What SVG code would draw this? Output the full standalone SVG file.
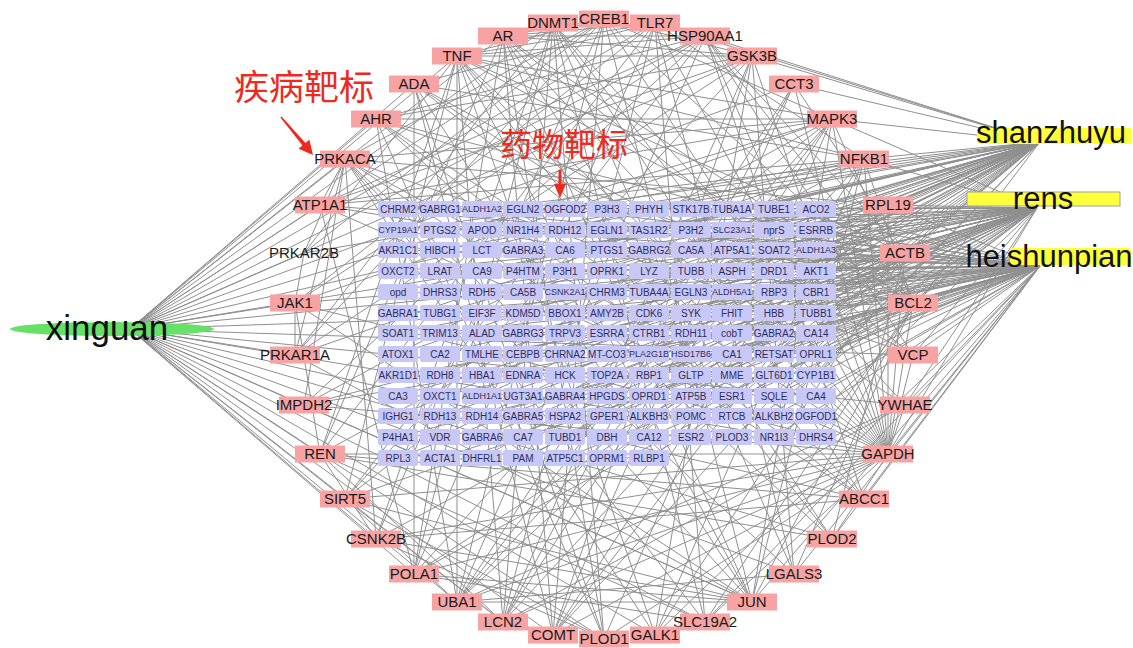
<svg xmlns="http://www.w3.org/2000/svg" xmlns:xlink="http://www.w3.org/1999/xlink" width="1133" height="648" viewBox="0 0 1133 648">
<style>
.e{fill:none;stroke:#8f8f8f;stroke-width:1}
.grid text{font-family:"Liberation Sans",Arial,sans-serif;font-size:10px;fill:#2e2e5c;text-anchor:middle}
.grid text.s{font-size:9px}
.ring text{font-family:"Liberation Sans",Arial,sans-serif;font-size:15px;fill:#1a1a1a;text-anchor:middle}
.herb text{font-family:"Liberation Sans",Arial,sans-serif;font-size:31px;fill:#111;text-anchor:middle}
.ann{font-family:"Noto Sans CJK SC","Noto Sans CJK JP",sans-serif;fill:#ee2a1f;text-anchor:middle}
</style>
<defs>
<rect id="tb" x="-20" y="-8" width="40" height="16" rx="2" fill="#c8c8f7"/>
<rect id="rb" x="-25" y="-8.5" width="50" height="17" fill="#f7a3a3"/>
</defs>
<rect width="1133" height="648" fill="#fff"/>
<g id="connectors" class="e">
<path d="M130 329L604 19M130 329L655 23M130 329L705 36M130 329L752 56M130 329L794 84M130 329L832 119M130 329L864 159M130 329L888 205M130 329L905 253M130 329L913 303M130 329L913 355M130 329L905 405M130 329L888 454M130 329L864 499M130 329L832 539M130 329L794 574M130 329L752 602M130 329L705 622M130 329L655 635M130 329L604 639M130 329L553 635M130 329L503 622M130 329L457 602M130 329L414 574M130 329L376 539M130 329L345 499M130 329L320 454M130 329L304 405M130 329L295 355M130 329L295 303M130 329L304 253M130 329L320 205M130 329L345 159M130 329L376 119M130 329L414 84M130 329L457 56M130 329L503 36M130 329L553 23"/>
<path d="M1037 208L398 209M1037 208L523 209M1037 208L649 209M1037 208L774 209M1037 208L440 230M1037 208L565 230M1037 208L691 230M1037 208L816 230M1037 208L482 250M1037 208L607 250M1037 208L732 250M1037 208L398 271M1037 208L523 271M1037 208L649 271M1037 208L774 271M1037 208L440 292M1037 208L565 292M1037 208L691 292M1037 208L816 292M1037 208L482 313M1037 208L607 313M1037 208L732 313M1037 208L398 333M1037 208L523 333M1037 208L649 333M1037 208L774 333M1037 208L440 354M1037 208L565 354M1037 208L691 354M1037 208L816 354M1037 208L482 375M1037 208L607 375M1037 208L732 375M1037 208L398 396M1037 208L523 396M1037 208L649 396M1037 208L774 396M1037 208L440 416M1037 208L565 416M1037 208L691 416M1037 208L816 416M1037 208L482 437M1037 208L607 437M1037 208L732 437M1037 208L398 458M1037 208L523 458M1037 208L649 458M1037 208L832 119M1037 208L864 159M1037 208L888 205M1037 208L905 253M1037 208L913 303M1037 208L913 355M1037 208L905 405M1037 208L888 454"/>
<path d="M1040 266L440 209M1040 266L565 209M1040 266L691 209M1040 266L816 209M1040 266L482 230M1040 266L607 230M1040 266L732 230M1040 266L398 250M1040 266L523 250M1040 266L649 250M1040 266L774 250M1040 266L440 271M1040 266L565 271M1040 266L691 271M1040 266L816 271M1040 266L482 292M1040 266L607 292M1040 266L732 292M1040 266L398 313M1040 266L523 313M1040 266L649 313M1040 266L774 313M1040 266L440 333M1040 266L565 333M1040 266L691 333M1040 266L816 333M1040 266L482 354M1040 266L607 354M1040 266L732 354M1040 266L398 375M1040 266L523 375M1040 266L649 375M1040 266L774 375M1040 266L440 396M1040 266L565 396M1040 266L691 396M1040 266L816 396M1040 266L482 416M1040 266L607 416M1040 266L732 416M1040 266L398 437M1040 266L523 437M1040 266L649 437M1040 266L774 437M1040 266L440 458M1040 266L565 458M1040 266L774 209M1040 266L816 230M1040 266L774 292M1040 266L816 354M1040 266L774 416M1040 266L888 205M1040 266L905 253M1040 266L913 303M1040 266L913 355M1040 266L905 405M1040 266L888 454M1040 266L864 499M1040 266L832 539M1040 266L794 574M1040 266L752 602M1040 266L705 622M1040 266L655 635"/>
<path d="M1040 142L482 209M1040 142L607 209M1040 142L732 209M1040 142L398 230M1040 142L523 230M1040 142L649 230M1040 142L774 230M1040 142L440 250M1040 142L565 250M1040 142L691 250M1040 142L816 250M1040 142L482 271M1040 142L607 271M1040 142L732 271M1040 142L398 292M1040 142L523 292M1040 142L649 292M1040 142L774 292M1040 142L440 313M1040 142L565 313M1040 142L691 313M1040 142L816 313M1040 142L482 333M1040 142L607 333M1040 142L732 333M1040 142L398 354M1040 142L523 354M1040 142L649 354M1040 142L774 354M1040 142L440 375M1040 142L565 375M1040 142L691 375M1040 142L816 375M1040 142L482 396M1040 142L607 396M1040 142L732 396M1040 142L398 416M1040 142L523 416M1040 142L649 416M1040 142L774 416M1040 142L440 437M1040 142L565 437M1040 142L691 437M1040 142L816 437M1040 142L482 458M1040 142L607 458M1040 142L655 23M1040 142L705 36M1040 142L752 56M1040 142L794 84M1040 142L832 119M1040 142L864 159M1040 142L888 205M1040 142L905 253"/>
<path d="M457 56L604 19M457 56L655 23M457 56L705 36M457 56L752 56M457 56L832 119M457 56L864 159M457 56L913 303M457 56L888 454M457 56L752 602M457 56L457 602M457 56L320 454M457 56L503 622M457 56L864 499M457 56L345 499M457 56L304 253M457 56L905 253M457 56L655 635M457 56L832 539"/>
<path d="M888 454L604 19M888 454L655 23M888 454L705 36M888 454L752 56M888 454L794 84M888 454L832 119M888 454L864 159M888 454L888 205M888 454L905 253M888 454L913 303M888 454L913 355M888 454L905 405M888 454L832 539M888 454L457 602M888 454L414 574M888 454L376 539M888 454L345 499M888 454L320 454M888 454L304 405M888 454L295 303M888 454L320 205M888 454L345 159M888 454L376 119M888 454L414 84M888 454L503 36M888 454L553 23M888 454L705 622M888 454L604 639M888 454L553 635M888 454L503 622"/>
<path d="M905 253L705 36M905 253L794 84M905 253L832 539M905 253L414 574M905 253L376 539M905 253L320 205M905 253L376 119M905 253L655 635M905 253L553 635M905 253L304 405M905 253L295 303"/>
<path d="M604 19L752 56M604 19L832 119M604 19L913 303M604 19L752 602M604 19L345 159M604 19L304 253M604 19L295 355M604 19L457 602M604 19L553 635M604 19L503 36M604 19L376 539"/>
<path d="M503 36L655 23M503 36L705 36M503 36L752 56M503 36L913 303M503 36L752 602M503 36L414 574M503 36L320 454M503 36L832 539M503 36L604 639M503 36L913 355"/>
<path d="M752 602L832 119M752 602L864 159M752 602L913 303M752 602L345 159M752 602L414 84M752 602L295 355M752 602L376 539M752 602L457 602M752 602L295 303M752 602L304 405"/>
<path d="M832 119L913 303M832 119L345 159M832 119L295 303M832 119L304 405M832 119L345 499M832 119L414 574M832 119L503 622M832 119L604 639M832 119L376 119M832 119L320 205"/>
<path d="M864 159L913 303M864 159L655 23M864 159L320 454M864 159L553 635M864 159L655 635M864 159L295 355M864 159L304 253M864 159L320 205M864 159L457 602M864 159L414 84"/>
<path d="M705 36L913 303M705 36L320 205M705 36L295 303M705 36L345 499M705 36L457 602M705 36L304 405M705 36L913 355M705 36L864 499M705 36L376 119"/>
<path d="M913 303L345 499M913 303L414 574M913 303L304 405M913 303L794 574M913 303L705 622M913 303L320 205M913 303L376 119"/>
<path d="M752 56L376 119M752 56L320 205M752 56L345 499M752 56L553 635M752 56L655 635M752 56L503 622M752 56L295 355M752 56L794 574"/>
<path d="M345 159L295 355M345 159L304 253M345 159L320 205M345 159L304 405M345 159L376 539M345 159L655 635M345 159L705 622M345 159L794 574M345 159L864 499M345 159L913 355M345 159L888 205"/>
<path d="M655 23L414 84M655 23L320 454M655 23L503 622M655 23L705 622M655 23L295 303M655 23L794 574"/>
<path d="M553 23L604 639M553 23L705 622M553 23L864 499M553 23L794 574M553 23L376 539M553 23L295 355M553 23L905 405"/>
<path d="M320 454L295 303M320 454L376 539M320 454L503 622M320 454L832 539M320 454L864 499"/>
<path d="M414 84L414 574M414 84L553 635M414 84L604 639M414 84L913 355M414 84L905 405"/>
<path d="M376 119L457 602M376 119L604 639M376 119L864 499M376 119L832 539"/>
<path d="M345 499L503 622M345 499L457 602M345 499L752 602M345 499L604 639"/>
<path d="M457 602L794 84M457 602L832 119M457 602L888 205M457 602L905 405M457 602L794 574"/>
<path d="M503 622L794 84M503 622L888 205M503 622L905 405M503 622L553 23"/>
<path d="M414 574L655 23M414 574L553 23M414 574L752 602M414 574L320 205"/>
<path d="M376 539L604 639M376 539L864 499M553 635L503 36M553 635L794 84M553 635L888 205M295 303L295 355M295 303L304 253M705 622L320 454M705 622L414 574"/>
</g>
<g class="grid">
<g id="t-CHRM2" transform="translate(398,209)"><use href="#tb"/><text y="3.5">CHRM2</text></g>
<g id="t-GABRG1" transform="translate(440,209)"><use href="#tb"/><text y="3.5">GABRG1</text></g>
<g id="t-ALDH1A2" transform="translate(482,209)"><use href="#tb"/><text class="s" y="3.2">ALDH1A2</text></g>
<g id="t-EGLN2" transform="translate(523,209)"><use href="#tb"/><text y="3.5">EGLN2</text></g>
<g id="t-OGFOD2" transform="translate(565,209)"><use href="#tb"/><text y="3.5">OGFOD2</text></g>
<g id="t-P3H3" transform="translate(607,209)"><use href="#tb"/><text y="3.5">P3H3</text></g>
<g id="t-PHYH" transform="translate(649,209)"><use href="#tb"/><text y="3.5">PHYH</text></g>
<g id="t-STK17B" transform="translate(691,209)"><use href="#tb"/><text y="3.5">STK17B</text></g>
<g id="t-TUBA1A" transform="translate(732,209)"><use href="#tb"/><text y="3.5">TUBA1A</text></g>
<g id="t-TUBE1" transform="translate(774,209)"><use href="#tb"/><text y="3.5">TUBE1</text></g>
<g id="t-ACO2" transform="translate(816,209)"><use href="#tb"/><text y="3.5">ACO2</text></g>
<g id="t-CYP19A1" transform="translate(398,230)"><use href="#tb"/><text class="s" y="3.2">CYP19A1</text></g>
<g id="t-PTGS2" transform="translate(440,230)"><use href="#tb"/><text y="3.5">PTGS2</text></g>
<g id="t-APOD" transform="translate(482,230)"><use href="#tb"/><text y="3.5">APOD</text></g>
<g id="t-NR1H4" transform="translate(523,230)"><use href="#tb"/><text y="3.5">NR1H4</text></g>
<g id="t-RDH12" transform="translate(565,230)"><use href="#tb"/><text y="3.5">RDH12</text></g>
<g id="t-EGLN1" transform="translate(607,230)"><use href="#tb"/><text y="3.5">EGLN1</text></g>
<g id="t-TAS1R2" transform="translate(649,230)"><use href="#tb"/><text y="3.5">TAS1R2</text></g>
<g id="t-P3H2" transform="translate(691,230)"><use href="#tb"/><text y="3.5">P3H2</text></g>
<g id="t-SLC23A1" transform="translate(732,230)"><use href="#tb"/><text class="s" y="3.2">SLC23A1</text></g>
<g id="t-nprS" transform="translate(774,230)"><use href="#tb"/><text y="3.5">nprS</text></g>
<g id="t-ESRRB" transform="translate(816,230)"><use href="#tb"/><text y="3.5">ESRRB</text></g>
<g id="t-AKR1C1" transform="translate(398,250)"><use href="#tb"/><text y="3.5">AKR1C1</text></g>
<g id="t-HIBCH" transform="translate(440,250)"><use href="#tb"/><text y="3.5">HIBCH</text></g>
<g id="t-LCT" transform="translate(482,250)"><use href="#tb"/><text y="3.5">LCT</text></g>
<g id="t-GABRA3" transform="translate(523,250)"><use href="#tb"/><text y="3.5">GABRA3</text></g>
<g id="t-CA6" transform="translate(565,250)"><use href="#tb"/><text y="3.5">CA6</text></g>
<g id="t-PTGS1" transform="translate(607,250)"><use href="#tb"/><text y="3.5">PTGS1</text></g>
<g id="t-GABRG2" transform="translate(649,250)"><use href="#tb"/><text y="3.5">GABRG2</text></g>
<g id="t-CA5A" transform="translate(691,250)"><use href="#tb"/><text y="3.5">CA5A</text></g>
<g id="t-ATP5A1" transform="translate(732,250)"><use href="#tb"/><text y="3.5">ATP5A1</text></g>
<g id="t-SOAT2" transform="translate(774,250)"><use href="#tb"/><text y="3.5">SOAT2</text></g>
<g id="t-ALDH1A3" transform="translate(816,250)"><use href="#tb"/><text class="s" y="3.2">ALDH1A3</text></g>
<g id="t-OXCT2" transform="translate(398,271)"><use href="#tb"/><text y="3.5">OXCT2</text></g>
<g id="t-LRAT" transform="translate(440,271)"><use href="#tb"/><text y="3.5">LRAT</text></g>
<g id="t-CA9" transform="translate(482,271)"><use href="#tb"/><text y="3.5">CA9</text></g>
<g id="t-P4HTM" transform="translate(523,271)"><use href="#tb"/><text y="3.5">P4HTM</text></g>
<g id="t-P3H1" transform="translate(565,271)"><use href="#tb"/><text y="3.5">P3H1</text></g>
<g id="t-OPRK1" transform="translate(607,271)"><use href="#tb"/><text y="3.5">OPRK1</text></g>
<g id="t-LYZ" transform="translate(649,271)"><use href="#tb"/><text y="3.5">LYZ</text></g>
<g id="t-TUBB" transform="translate(691,271)"><use href="#tb"/><text y="3.5">TUBB</text></g>
<g id="t-ASPH" transform="translate(732,271)"><use href="#tb"/><text y="3.5">ASPH</text></g>
<g id="t-DRD1" transform="translate(774,271)"><use href="#tb"/><text y="3.5">DRD1</text></g>
<g id="t-AKT1" transform="translate(816,271)"><use href="#tb"/><text y="3.5">AKT1</text></g>
<g id="t-opd" transform="translate(398,292)"><use href="#tb"/><text y="3.5">opd</text></g>
<g id="t-DHRS3" transform="translate(440,292)"><use href="#tb"/><text y="3.5">DHRS3</text></g>
<g id="t-RDH5" transform="translate(482,292)"><use href="#tb"/><text y="3.5">RDH5</text></g>
<g id="t-CA5B" transform="translate(523,292)"><use href="#tb"/><text y="3.5">CA5B</text></g>
<g id="t-CSNK2A1" transform="translate(565,292)"><use href="#tb"/><text class="s" y="3.2">CSNK2A1</text></g>
<g id="t-CHRM3" transform="translate(607,292)"><use href="#tb"/><text y="3.5">CHRM3</text></g>
<g id="t-TUBA4A" transform="translate(649,292)"><use href="#tb"/><text y="3.5">TUBA4A</text></g>
<g id="t-EGLN3" transform="translate(691,292)"><use href="#tb"/><text y="3.5">EGLN3</text></g>
<g id="t-ALDH5A1" transform="translate(732,292)"><use href="#tb"/><text class="s" y="3.2">ALDH5A1</text></g>
<g id="t-RBP3" transform="translate(774,292)"><use href="#tb"/><text y="3.5">RBP3</text></g>
<g id="t-CBR1" transform="translate(816,292)"><use href="#tb"/><text y="3.5">CBR1</text></g>
<g id="t-GABRA1" transform="translate(398,313)"><use href="#tb"/><text y="3.5">GABRA1</text></g>
<g id="t-TUBG1" transform="translate(440,313)"><use href="#tb"/><text y="3.5">TUBG1</text></g>
<g id="t-EIF3F" transform="translate(482,313)"><use href="#tb"/><text y="3.5">EIF3F</text></g>
<g id="t-KDM5D" transform="translate(523,313)"><use href="#tb"/><text y="3.5">KDM5D</text></g>
<g id="t-BBOX1" transform="translate(565,313)"><use href="#tb"/><text y="3.5">BBOX1</text></g>
<g id="t-AMY2B" transform="translate(607,313)"><use href="#tb"/><text y="3.5">AMY2B</text></g>
<g id="t-CDK6" transform="translate(649,313)"><use href="#tb"/><text y="3.5">CDK6</text></g>
<g id="t-SYK" transform="translate(691,313)"><use href="#tb"/><text y="3.5">SYK</text></g>
<g id="t-FHIT" transform="translate(732,313)"><use href="#tb"/><text y="3.5">FHIT</text></g>
<g id="t-HBB" transform="translate(774,313)"><use href="#tb"/><text y="3.5">HBB</text></g>
<g id="t-TUBB1" transform="translate(816,313)"><use href="#tb"/><text y="3.5">TUBB1</text></g>
<g id="t-SOAT1" transform="translate(398,333)"><use href="#tb"/><text y="3.5">SOAT1</text></g>
<g id="t-TRIM13" transform="translate(440,333)"><use href="#tb"/><text y="3.5">TRIM13</text></g>
<g id="t-ALAD" transform="translate(482,333)"><use href="#tb"/><text y="3.5">ALAD</text></g>
<g id="t-GABRG3" transform="translate(523,333)"><use href="#tb"/><text y="3.5">GABRG3</text></g>
<g id="t-TRPV3" transform="translate(565,333)"><use href="#tb"/><text y="3.5">TRPV3</text></g>
<g id="t-ESRRA" transform="translate(607,333)"><use href="#tb"/><text y="3.5">ESRRA</text></g>
<g id="t-CTRB1" transform="translate(649,333)"><use href="#tb"/><text y="3.5">CTRB1</text></g>
<g id="t-RDH11" transform="translate(691,333)"><use href="#tb"/><text y="3.5">RDH11</text></g>
<g id="t-cobT" transform="translate(732,333)"><use href="#tb"/><text y="3.5">cobT</text></g>
<g id="t-GABRA2" transform="translate(774,333)"><use href="#tb"/><text y="3.5">GABRA2</text></g>
<g id="t-CA14" transform="translate(816,333)"><use href="#tb"/><text y="3.5">CA14</text></g>
<g id="t-ATOX1" transform="translate(398,354)"><use href="#tb"/><text y="3.5">ATOX1</text></g>
<g id="t-CA2" transform="translate(440,354)"><use href="#tb"/><text y="3.5">CA2</text></g>
<g id="t-TMLHE" transform="translate(482,354)"><use href="#tb"/><text y="3.5">TMLHE</text></g>
<g id="t-CEBPB" transform="translate(523,354)"><use href="#tb"/><text y="3.5">CEBPB</text></g>
<g id="t-CHRNA2" transform="translate(565,354)"><use href="#tb"/><text y="3.5">CHRNA2</text></g>
<g id="t-MT-CO3" transform="translate(607,354)"><use href="#tb"/><text y="3.5">MT-CO3</text></g>
<g id="t-PLA2G1B" transform="translate(649,354)"><use href="#tb"/><text class="s" y="3.2">PLA2G1B</text></g>
<g id="t-HSD17B6" transform="translate(691,354)"><use href="#tb"/><text class="s" y="3.2">HSD17B6</text></g>
<g id="t-CA1" transform="translate(732,354)"><use href="#tb"/><text y="3.5">CA1</text></g>
<g id="t-RETSAT" transform="translate(774,354)"><use href="#tb"/><text y="3.5">RETSAT</text></g>
<g id="t-OPRL1" transform="translate(816,354)"><use href="#tb"/><text y="3.5">OPRL1</text></g>
<g id="t-AKR1D1" transform="translate(398,375)"><use href="#tb"/><text y="3.5">AKR1D1</text></g>
<g id="t-RDH8" transform="translate(440,375)"><use href="#tb"/><text y="3.5">RDH8</text></g>
<g id="t-HBA1" transform="translate(482,375)"><use href="#tb"/><text y="3.5">HBA1</text></g>
<g id="t-EDNRA" transform="translate(523,375)"><use href="#tb"/><text y="3.5">EDNRA</text></g>
<g id="t-HCK" transform="translate(565,375)"><use href="#tb"/><text y="3.5">HCK</text></g>
<g id="t-TOP2A" transform="translate(607,375)"><use href="#tb"/><text y="3.5">TOP2A</text></g>
<g id="t-RBP1" transform="translate(649,375)"><use href="#tb"/><text y="3.5">RBP1</text></g>
<g id="t-GLTP" transform="translate(691,375)"><use href="#tb"/><text y="3.5">GLTP</text></g>
<g id="t-MME" transform="translate(732,375)"><use href="#tb"/><text y="3.5">MME</text></g>
<g id="t-GLT6D1" transform="translate(774,375)"><use href="#tb"/><text y="3.5">GLT6D1</text></g>
<g id="t-CYP1B1" transform="translate(816,375)"><use href="#tb"/><text y="3.5">CYP1B1</text></g>
<g id="t-CA3" transform="translate(398,396)"><use href="#tb"/><text y="3.5">CA3</text></g>
<g id="t-OXCT1" transform="translate(440,396)"><use href="#tb"/><text y="3.5">OXCT1</text></g>
<g id="t-ALDH1A1" transform="translate(482,396)"><use href="#tb"/><text class="s" y="3.2">ALDH1A1</text></g>
<g id="t-UGT3A1" transform="translate(523,396)"><use href="#tb"/><text y="3.5">UGT3A1</text></g>
<g id="t-GABRA4" transform="translate(565,396)"><use href="#tb"/><text y="3.5">GABRA4</text></g>
<g id="t-HPGDS" transform="translate(607,396)"><use href="#tb"/><text y="3.5">HPGDS</text></g>
<g id="t-OPRD1" transform="translate(649,396)"><use href="#tb"/><text y="3.5">OPRD1</text></g>
<g id="t-ATP5B" transform="translate(691,396)"><use href="#tb"/><text y="3.5">ATP5B</text></g>
<g id="t-ESR1" transform="translate(732,396)"><use href="#tb"/><text y="3.5">ESR1</text></g>
<g id="t-SQLE" transform="translate(774,396)"><use href="#tb"/><text y="3.5">SQLE</text></g>
<g id="t-CA4" transform="translate(816,396)"><use href="#tb"/><text y="3.5">CA4</text></g>
<g id="t-IGHG1" transform="translate(398,416)"><use href="#tb"/><text y="3.5">IGHG1</text></g>
<g id="t-RDH13" transform="translate(440,416)"><use href="#tb"/><text y="3.5">RDH13</text></g>
<g id="t-RDH14" transform="translate(482,416)"><use href="#tb"/><text y="3.5">RDH14</text></g>
<g id="t-GABRA5" transform="translate(523,416)"><use href="#tb"/><text y="3.5">GABRA5</text></g>
<g id="t-HSPA2" transform="translate(565,416)"><use href="#tb"/><text y="3.5">HSPA2</text></g>
<g id="t-GPER1" transform="translate(607,416)"><use href="#tb"/><text y="3.5">GPER1</text></g>
<g id="t-ALKBH3" transform="translate(649,416)"><use href="#tb"/><text y="3.5">ALKBH3</text></g>
<g id="t-POMC" transform="translate(691,416)"><use href="#tb"/><text y="3.5">POMC</text></g>
<g id="t-RTCB" transform="translate(732,416)"><use href="#tb"/><text y="3.5">RTCB</text></g>
<g id="t-ALKBH2" transform="translate(774,416)"><use href="#tb"/><text y="3.5">ALKBH2</text></g>
<g id="t-OGFOD1" transform="translate(816,416)"><use href="#tb"/><text y="3.5">OGFOD1</text></g>
<g id="t-P4HA1" transform="translate(398,437)"><use href="#tb"/><text y="3.5">P4HA1</text></g>
<g id="t-VDR" transform="translate(440,437)"><use href="#tb"/><text y="3.5">VDR</text></g>
<g id="t-GABRA6" transform="translate(482,437)"><use href="#tb"/><text y="3.5">GABRA6</text></g>
<g id="t-CA7" transform="translate(523,437)"><use href="#tb"/><text y="3.5">CA7</text></g>
<g id="t-TUBD1" transform="translate(565,437)"><use href="#tb"/><text y="3.5">TUBD1</text></g>
<g id="t-DBH" transform="translate(607,437)"><use href="#tb"/><text y="3.5">DBH</text></g>
<g id="t-CA12" transform="translate(649,437)"><use href="#tb"/><text y="3.5">CA12</text></g>
<g id="t-ESR2" transform="translate(691,437)"><use href="#tb"/><text y="3.5">ESR2</text></g>
<g id="t-PLOD3" transform="translate(732,437)"><use href="#tb"/><text y="3.5">PLOD3</text></g>
<g id="t-NR1I3" transform="translate(774,437)"><use href="#tb"/><text y="3.5">NR1I3</text></g>
<g id="t-DHRS4" transform="translate(816,437)"><use href="#tb"/><text y="3.5">DHRS4</text></g>
<g id="t-RPL3" transform="translate(398,458)"><use href="#tb"/><text y="3.5">RPL3</text></g>
<g id="t-ACTA1" transform="translate(440,458)"><use href="#tb"/><text y="3.5">ACTA1</text></g>
<g id="t-DHFRL1" transform="translate(482,458)"><use href="#tb"/><text y="3.5">DHFRL1</text></g>
<g id="t-PAM" transform="translate(523,458)"><use href="#tb"/><text y="3.5">PAM</text></g>
<g id="t-ATP5C1" transform="translate(565,458)"><use href="#tb"/><text y="3.5">ATP5C1</text></g>
<g id="t-OPRM1" transform="translate(607,458)"><use href="#tb"/><text y="3.5">OPRM1</text></g>
<g id="t-RLBP1" transform="translate(649,458)"><use href="#tb"/><text y="3.5">RLBP1</text></g>
</g>
<g class="ring">
<g id="n-CREB1" transform="translate(604,19)"><use href="#rb"/><text y="5">CREB1</text></g>
<g id="n-TLR7" transform="translate(655,23)"><use href="#rb"/><text y="5">TLR7</text></g>
<g id="n-HSP90AA1" transform="translate(705,36)"><use href="#rb"/><text y="5">HSP90AA1</text></g>
<g id="n-GSK3B" transform="translate(752,56)"><use href="#rb"/><text y="5">GSK3B</text></g>
<g id="n-CCT3" transform="translate(794,84)"><use href="#rb"/><text y="5">CCT3</text></g>
<g id="n-MAPK3" transform="translate(832,119)"><use href="#rb"/><text y="5">MAPK3</text></g>
<g id="n-NFKB1" transform="translate(864,159)"><use href="#rb"/><text y="5">NFKB1</text></g>
<g id="n-RPL19" transform="translate(888,205)"><use href="#rb"/><text y="5">RPL19</text></g>
<g id="n-ACTB" transform="translate(905,253)"><use href="#rb"/><text y="5">ACTB</text></g>
<g id="n-BCL2" transform="translate(913,303)"><use href="#rb"/><text y="5">BCL2</text></g>
<g id="n-VCP" transform="translate(913,355)"><use href="#rb"/><text y="5">VCP</text></g>
<g id="n-YWHAE" transform="translate(905,405)"><use href="#rb"/><text y="5">YWHAE</text></g>
<g id="n-GAPDH" transform="translate(888,454)"><use href="#rb"/><text y="5">GAPDH</text></g>
<g id="n-ABCC1" transform="translate(864,499)"><use href="#rb"/><text y="5">ABCC1</text></g>
<g id="n-PLOD2" transform="translate(832,539)"><use href="#rb"/><text y="5">PLOD2</text></g>
<g id="n-LGALS3" transform="translate(794,574)"><use href="#rb"/><text y="5">LGALS3</text></g>
<g id="n-JUN" transform="translate(752,602)"><use href="#rb"/><text y="5">JUN</text></g>
<g id="n-SLC19A2" transform="translate(705,622)"><use href="#rb"/><text y="5">SLC19A2</text></g>
<g id="n-GALK1" transform="translate(655,635)"><use href="#rb"/><text y="5">GALK1</text></g>
<g id="n-PLOD1" transform="translate(604,639)"><use href="#rb"/><text y="5">PLOD1</text></g>
<g id="n-COMT" transform="translate(553,635)"><use href="#rb"/><text y="5">COMT</text></g>
<g id="n-LCN2" transform="translate(503,622)"><use href="#rb"/><text y="5">LCN2</text></g>
<g id="n-UBA1" transform="translate(457,602)"><use href="#rb"/><text y="5">UBA1</text></g>
<g id="n-POLA1" transform="translate(414,574)"><use href="#rb"/><text y="5">POLA1</text></g>
<g id="n-CSNK2B" transform="translate(376,539)"><use href="#rb"/><text y="5">CSNK2B</text></g>
<g id="n-SIRT5" transform="translate(345,499)"><use href="#rb"/><text y="5">SIRT5</text></g>
<g id="n-REN" transform="translate(320,454)"><use href="#rb"/><text y="5">REN</text></g>
<g id="n-IMPDH2" transform="translate(304,405)"><use href="#rb"/><text y="5">IMPDH2</text></g>
<g id="n-PRKAR1A" transform="translate(295,355)"><use href="#rb"/><text y="5">PRKAR1A</text></g>
<g id="n-JAK1" transform="translate(295,303)"><use href="#rb"/><text y="5">JAK1</text></g>
<g id="n-PRKAR2B" transform="translate(304,253)"><text y="5">PRKAR2B</text></g>
<g id="n-ATP1A1" transform="translate(320,205)"><use href="#rb"/><text y="5">ATP1A1</text></g>
<g id="n-PRKACA" transform="translate(345,159)"><use href="#rb"/><text y="5">PRKACA</text></g>
<g id="n-AHR" transform="translate(376,119)"><use href="#rb"/><text y="5">AHR</text></g>
<g id="n-ADA" transform="translate(414,84)"><use href="#rb"/><text y="5">ADA</text></g>
<g id="n-TNF" transform="translate(457,56)"><use href="#rb"/><text y="5">TNF</text></g>
<g id="n-AR" transform="translate(503,36)"><use href="#rb"/><text y="5">AR</text></g>
<g id="n-DNMT1" transform="translate(553,23)"><use href="#rb"/><text y="5">DNMT1</text></g>
</g>
<g class="herb">
<g id="h-xinguan"><ellipse cx="112" cy="329" rx="102" ry="7" fill="#66e066"/><text x="107" y="340" style="font-size:35px">xinguan</text></g>
<g id="h-shanzhuyu"><rect x="977" y="128" width="155" height="16" rx="3" fill="#ffff3a"/><text x="1051" y="143">shanzhuyu</text></g>
<g id="h-rens"><rect x="967" y="192" width="153" height="14" fill="#ffff3a" stroke="#a0a0a0" stroke-width="1"/><text x="1043" y="209">rens</text></g>
<g id="h-heishunpian"><rect x="1010" y="248" width="121" height="17" rx="3" fill="#ffff3a"/><text x="1049" y="267">heishunpian</text></g>
</g>
<g id="annotations">
<text class="ann" x="304" y="100" font-size="35">疾病靶标</text>
<polygon points="280.4,117.5 302.5,145.6 298.6,148.8 313,155 309.4,139.8 305.5,143 281.6,116.5" fill="#ee2a1f"/>
<text class="ann" x="564" y="156" font-size="32">药物靶标</text>
<polygon points="558.5,170 561.5,170 561.5,184 566,184 560,198 554,184 558.5,184" fill="#ee2a1f"/>
</g>
</svg>
